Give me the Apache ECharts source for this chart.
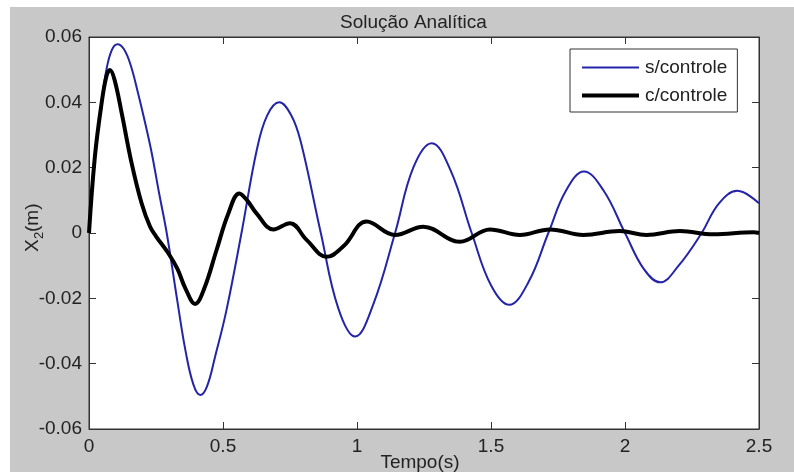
<!DOCTYPE html>
<html>
<head>
<meta charset="utf-8">
<script src="https://cdn.jsdelivr.net/npm/echarts@6/dist/echarts.min.js"></script>
<style>
html, body { margin: 0; padding: 0; background: #fff; }
#chart { width: 794px; height: 472px; }
</style>
</head>
<body>
<div id="chart"></div>
<script>
// valores: [tempo (s), X2 (m)]
var semControle = [
  [0, 0], [0.022, 0.0234], [0.047, 0.040], [0.065, 0.050], [0.085, 0.0560],
  [0.106, 0.0578], [0.13, 0.0563], [0.155, 0.0515], [0.184, 0.0425], [0.21, 0.0335],
  [0.234, 0.0245], [0.262, 0.012], [0.29, 0], [0.33, -0.021], [0.36, -0.036],
  [0.39, -0.0465], [0.415, -0.0496], [0.44, -0.047], [0.47, -0.038], [0.513, -0.0236],
  [0.569, 0], [0.626, 0.0254], [0.665, 0.036], [0.71, 0.040], [0.755, 0.036],
  [0.79, 0.028], [0.865, 0], [0.93, -0.023], [0.993, -0.0317], [1.06, -0.022],
  [1.142, 0], [1.21, 0.020], [1.279, 0.0275], [1.35, 0.019], [1.428, 0],
  [1.5, -0.016], [1.568, -0.022], [1.64, -0.015], [1.714, 0], [1.78, 0.013],
  [1.847, 0.0188], [1.92, 0.013], [2.0, 0], [2.07, -0.011], [2.131, -0.0151],
  [2.2, -0.010], [2.286, 0], [2.35, 0.009], [2.419, 0.0129], [2.5, 0.0091]
]
var comControle = [
  [0, 0], [0.022, 0.0234], [0.047, 0.0397], [0.065, 0.048], [0.078, 0.0499],
  [0.095, 0.047], [0.122, 0.0367], [0.159, 0.0214], [0.196, 0.0092], [0.228, 0.0019],
  [0.25, -0.001], [0.296, -0.0062], [0.33, -0.011], [0.36, -0.017], [0.396, -0.0217],
  [0.43, -0.017], [0.476, -0.0052], [0.52, 0.006], [0.561, 0.0121], [0.59, 0.010],
  [0.625, 0.006], [0.688, 0.0011], [0.75, 0.003], [0.812, -0.0021], [0.887, -0.0073],
  [0.95, -0.004], [1.036, 0.0035], [1.142, -0.0006], [1.247, 0.0019], [1.384, -0.0027],
  [1.496, 0.0011], [1.608, -0.0006], [1.72, 0.0011], [1.845, -0.0006], [1.98, 0.0006],
  [2.08, -0.0006], [2.205, 0.0006], [2.33, -0.0004], [2.48, 0.0002], [2.5, 0]
]
var nomes = ['s/controle', 'c/controle']

var fonte = '"Liberation Sans", Arial, sans-serif'
var corTexto = '#222'
var corEixo = '#333'
var azul = '#2424a8'

var myChart = echarts.init(document.getElementById('chart'))
var option = {
  backgroundColor: '#fff',
  animation: false,
  title: {
    text: 'Solução Analítica',
    left: 340,
    top: 13,
    padding: 0,
    textStyle: { fontFamily: fonte, fontSize: 19, fontWeight: 'normal', color: corTexto }
  },
  graphic: [
    {
      type: 'rect', z: -10, silent: true,
      shape: { x: 10, y: 7, width: 784, height: 465 },
      style: { fill: '#c8c8c8' }
    },
    // nome do eixo x
    {
      type: 'text', x: 420, y: 463,
      style: { text: 'Tempo(s)', fontFamily: fonte, fontSize: 19, fill: corTexto, align: 'center', verticalAlign: 'middle' }
    },
    // nome do eixo y com subscrito
    {
      type: 'group', x: 33, y: 228, rotation: Math.PI / 2,
      children: [
        { type: 'text', x: -24, y: 0, style: { text: 'X', fontFamily: fonte, fontSize: 19, fill: corTexto, verticalAlign: 'middle' } },
        { type: 'text', x: -11, y: 6, style: { text: '2', fontFamily: fonte, fontSize: 13, fill: corTexto, verticalAlign: 'middle' } },
        { type: 'text', x: -4, y: 0, style: { text: '(m)', fontFamily: fonte, fontSize: 19, fill: corTexto, verticalAlign: 'middle' } }
      ]
    }
  ],
  legend: {
    data: [
      { name: nomes[0], lineStyle: { color: azul, width: 2 } },
      { name: nomes[1], lineStyle: { color: '#000', width: 4 } }
    ],
    orient: 'vertical',
    left: 570,
    top: 49,
    padding: [9, 10, 7, 10],
    itemGap: 9,
    itemWidth: 57,
    itemHeight: 18,
    itemStyle: { opacity: 0 },
    backgroundColor: '#fff',
    borderColor: corEixo,
    borderWidth: 1,
    borderRadius: 0,
    textStyle: { fontFamily: fonte, fontSize: 19, color: corTexto, padding: [0, 0, 0, 1] }
  },
  grid: {
    left: 89, top: 37, right: 35, bottom: 43,
    outerBoundsMode: 'none',
    show: true, backgroundColor: '#fff', borderColor: corEixo, borderWidth: 1
  },
  xAxis: [
    {
      type: 'value', min: 0, max: 2.5, interval: 0.5,
      axisLine: { onZero: false, lineStyle: { color: corEixo } },
      axisTick: { inside: true, length: 7, lineStyle: { color: corEixo } },
      axisLabel: { fontFamily: fonte, fontSize: 19, color: corTexto, margin: 8 },
      splitLine: { show: false }
    },
    {
      type: 'value', min: 0, max: 2.5, interval: 0.5, position: 'top',
      axisLine: { onZero: false, lineStyle: { color: corEixo } },
      axisTick: { inside: true, length: 7, lineStyle: { color: corEixo } },
      axisLabel: { show: false },
      splitLine: { show: false }
    }
  ],
  yAxis: [
    {
      type: 'value', min: -0.06, max: 0.06, interval: 0.02,
      axisLine: { show: true, onZero: false, lineStyle: { color: corEixo } },
      axisTick: { show: true, inside: true, length: 7, lineStyle: { color: corEixo } },
      axisLabel: {
        fontFamily: fonte, fontSize: 19, color: corTexto, margin: 7,
        formatter: function (v) { return String(+v.toFixed(2)) }
      },
      splitLine: { show: false }
    },
    {
      type: 'value', min: -0.06, max: 0.06, interval: 0.02, position: 'right',
      axisLine: { show: true, onZero: false, lineStyle: { color: corEixo } },
      axisTick: { show: true, inside: true, length: 7, lineStyle: { color: corEixo } },
      axisLabel: { show: false },
      splitLine: { show: false }
    }
  ],
  series: [
    {
      name: nomes[0],
      type: 'line',
      data: semControle,
      smooth: 0.4,
      symbol: 'none',
      lineStyle: { color: azul, width: 2 },
      itemStyle: { color: azul }
    },
    {
      name: nomes[1],
      type: 'line',
      data: comControle,
      smooth: 0.4,
      symbol: 'none',
      lineStyle: { color: '#000', width: 4 },
      itemStyle: { color: '#000' }
    }
  ]
}
myChart.setOption(option)
</script>
</body>
</html>
